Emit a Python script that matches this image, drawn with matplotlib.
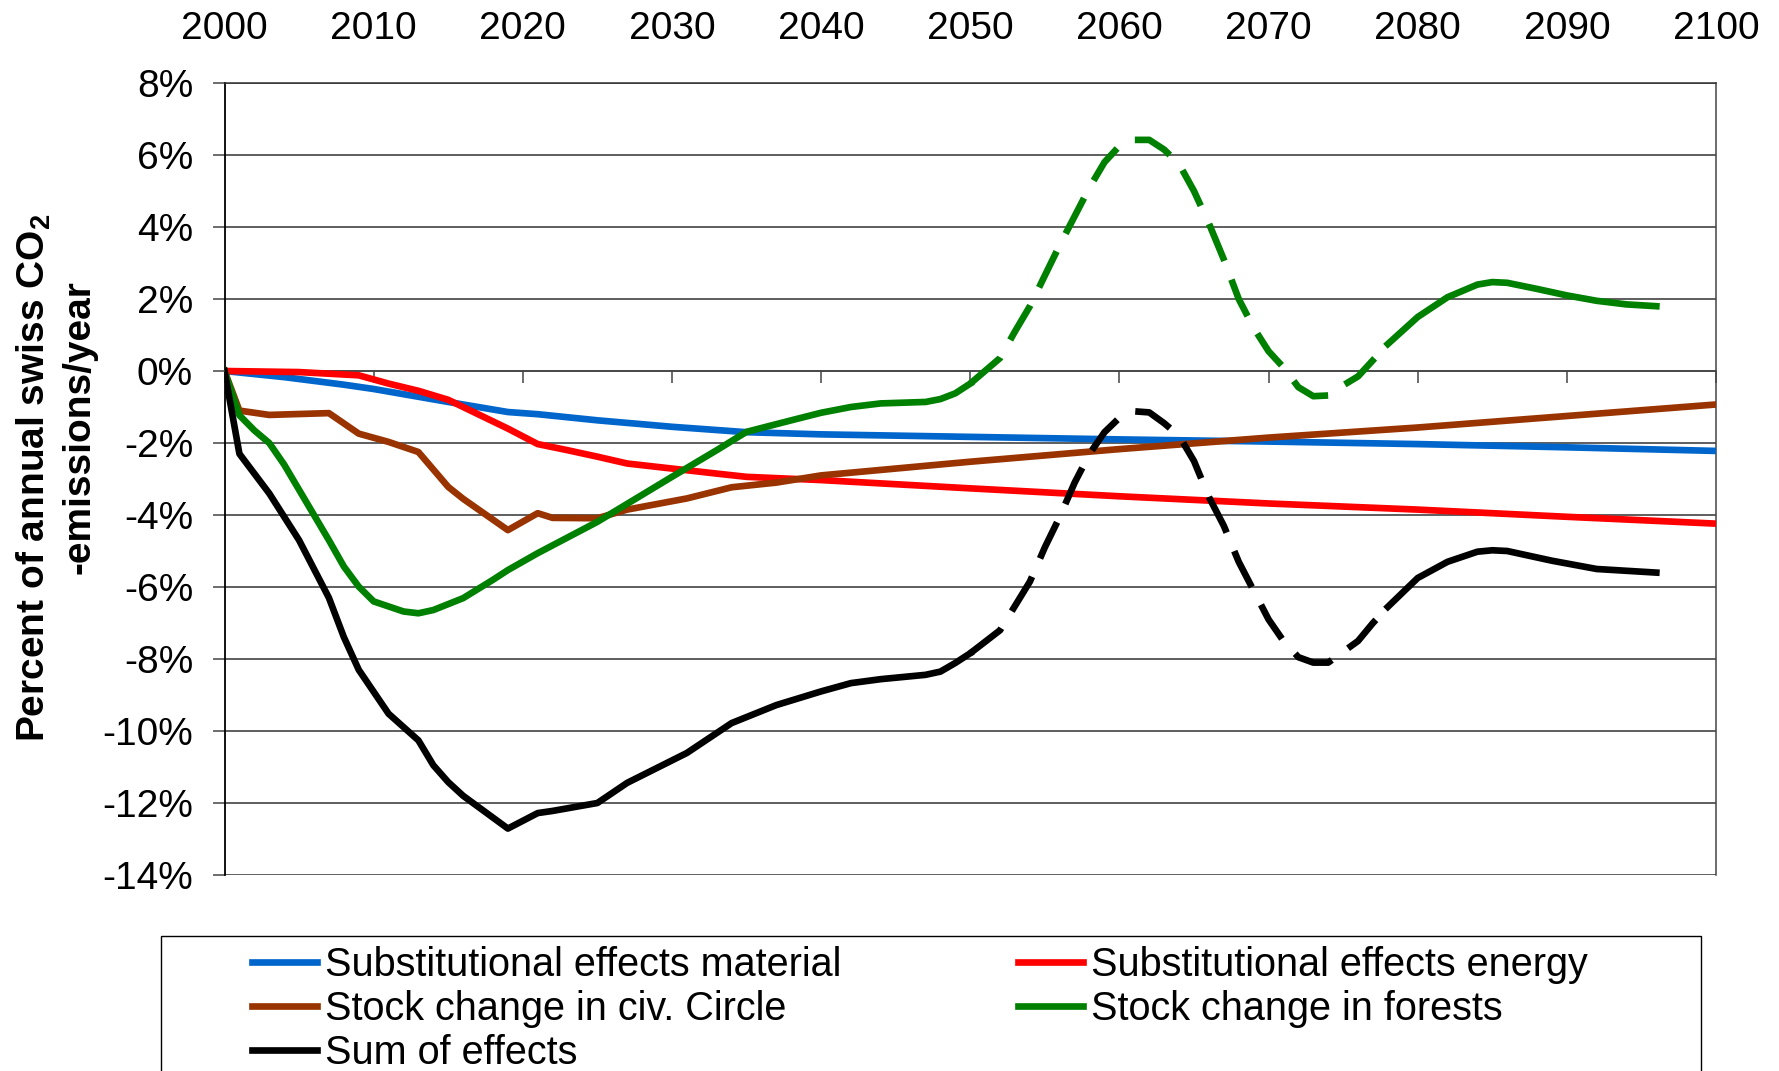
import numpy as np
import matplotlib
matplotlib.use('Agg')
import matplotlib.pyplot as plt
from matplotlib.lines import Line2D
from matplotlib.patches import Rectangle

plt.rcParams['font.family'] = ['Liberation Sans', 'DejaVu Sans']
plt.rcParams['mathtext.fontset'] = 'custom'
plt.rcParams['mathtext.rm'] = 'Liberation Sans:bold'
plt.rcParams['mathtext.bf'] = 'Liberation Sans:bold'
plt.rcParams['mathtext.default'] = 'bf'

# values in percent of annual swiss CO2 emissions
mat_years = [2000, 2004, 2008, 2010, 2015, 2019, 2021, 2025, 2030, 2035, 2040, 2050, 2060, 2070, 2080, 2090, 2100]
mat_vals = [0, -0.17, -0.38, -0.5, -0.86, -1.14, -1.2, -1.37, -1.55, -1.7, -1.76, -1.83, -1.9, -1.96, -2.03, -2.12, -2.22]

en_years = [2000, 2005, 2009, 2011, 2013, 2015, 2017, 2019, 2021, 2023, 2025, 2027, 2030, 2033, 2035, 2040, 2050, 2060, 2070, 2080, 2090, 2100]
en_vals = [0, -0.03, -0.12, -0.35, -0.55, -0.8, -1.2, -1.6, -2.03, -2.2, -2.38, -2.57, -2.71, -2.85, -2.94, -3.03, -3.26, -3.48, -3.68, -3.85, -4.05, -4.24]

civ_years = [2000, 2001, 2003, 2007, 2009, 2011, 2013, 2015, 2016, 2019, 2021, 2022, 2025, 2027, 2031, 2034, 2037, 2040, 2050, 2060, 2070, 2080, 2090, 2100]
civ_vals = [0, -1.1, -1.22, -1.17, -1.74, -1.97, -2.25, -3.22, -3.55, -4.42, -3.95, -4.08, -4.09, -3.85, -3.54, -3.23, -3.1, -2.9, -2.52, -2.17, -1.85, -1.57, -1.25, -0.93]

for_years = [2000, 2001, 2002, 2003, 2004, 2005, 2007, 2008, 2009, 2010, 2012, 2013, 2014, 2016, 2018, 2019,
             2021, 2025, 2030, 2033, 2035, 2038, 2040, 2042, 2044, 2047, 2048, 2049, 2050, 2052, 2053, 2054,
             2056, 2058, 2059, 2060, 2061, 2062, 2063, 2064, 2065, 2066, 2067, 2068, 2069, 2070, 2071, 2072,
             2073, 2074, 2075, 2076, 2077, 2078, 2080, 2082, 2084, 2085, 2086, 2088, 2090, 2092, 2094, 2096]
for_vals = [0, -1.23, -1.65, -2.0, -2.6, -3.3, -4.7, -5.43, -5.99, -6.4, -6.68, -6.73, -6.64, -6.31, -5.8, -5.53,
            -5.06, -4.19, -2.94, -2.2, -1.69, -1.37, -1.16, -1.0, -0.9, -0.86, -0.78, -0.62, -0.35, 0.36, 1.1, 1.8,
            3.5, 5.1, 5.8, 6.25, 6.42, 6.42, 6.15, 5.75, 5.0, 4.1, 3.1, 2.0, 1.2, 0.55, 0.1, -0.45,
            -0.7, -0.68, -0.4, -0.15, 0.3, 0.75, 1.5, 2.05, 2.4, 2.47, 2.45, 2.28, 2.1, 1.95, 1.85, 1.8]

sum_years = [2000, 2001, 2002, 2003, 2004, 2005, 2007, 2008, 2009, 2011, 2013, 2014, 2015, 2016, 2019, 2021,
             2022, 2025, 2027, 2031, 2034, 2037, 2040, 2042, 2044, 2047, 2048, 2049, 2050, 2052, 2054, 2055,
             2056, 2057, 2058, 2059, 2060, 2061, 2062, 2063, 2064, 2065, 2066, 2067, 2068, 2069, 2070, 2071,
             2072, 2073, 2074, 2075, 2076, 2077, 2078, 2080, 2082, 2084, 2085, 2086, 2089, 2092, 2096]
sum_vals = [0, -2.3, -2.85, -3.4, -4.05, -4.7, -6.3, -7.39, -8.3, -9.52, -10.26, -10.95, -11.42, -11.8, -12.71, -12.28,
            -12.22, -12.0, -11.44, -10.61, -9.78, -9.28, -8.9, -8.67, -8.56, -8.44, -8.35, -8.11, -7.84, -7.2, -5.85, -4.9,
            -4.05, -3.1, -2.3, -1.7, -1.3, -1.12, -1.15, -1.45, -1.8, -2.5, -3.5, -4.3, -5.3, -6.1, -6.9, -7.5,
            -7.95, -8.1, -8.1, -7.8, -7.5, -7.0, -6.55, -5.75, -5.3, -5.02, -4.98, -5.0, -5.27, -5.5, -5.6]

labels = ["Substitutional effects material", "Substitutional effects energy",
          "Stock change in civ. Circle", "Stock change in forests", "Sum of effects"]
colors = ["#0066CC", "#FF0000", "#993300", "#008000", "#000000"]

x_ticks = list(range(2000, 2101, 10))
y_ticks = list(range(-14, 9, 2))
y_ticklabels = ["%d%%" % v for v in y_ticks]

DASH_FROM, DASH_TO = 2050, 2078  # uncertain part drawn dashed

W, H = 1779, 1071
LW = 4.8

fig = plt.figure(figsize=(W / 100, H / 100), dpi=100)
ax = fig.add_axes([224.5 / W, 1 - 875 / H, (1716 - 224.5) / W, (875 - 83) / H])


def plot_split(years, vals, color):
    years = np.array(years)
    vals = np.array(vals)
    a = years <= DASH_FROM
    b = (years >= DASH_FROM) & (years <= DASH_TO)
    c = years >= DASH_TO
    ax.plot(years[a], vals[a], color=color, lw=LW, solid_joinstyle='round', zorder=3)
    ax.plot(years[b], vals[b], color=color, lw=LW, ls=(0, (6, 3)), dash_capstyle='butt', zorder=3)
    ax.plot(years[c], vals[c], color=color, lw=LW, solid_joinstyle='round', zorder=3)


ax.plot(mat_years, mat_vals, color=colors[0], lw=LW, zorder=3)
ax.plot(en_years, en_vals, color=colors[1], lw=LW, zorder=3)
ax.plot(civ_years, civ_vals, color=colors[2], lw=LW, zorder=3)
plot_split(for_years, for_vals, colors[3])
plot_split(sum_years, sum_vals, colors[4])

ax.set_xlim(2000, 2100)
ax.set_ylim(-14, 8)
ax.set_xticks(x_ticks)
ax.set_yticks(y_ticks)
ax.set_yticklabels(y_ticklabels)
ax.grid(axis='y', color='#333333', lw=1.1)
ax.set_axisbelow(True)

ax.spines['bottom'].set_position(('data', 0))
ax.spines['bottom'].set_color('#444444')
ax.spines['bottom'].set_linewidth(1.1)
ax.spines['top'].set_color('#333333')
ax.spines['top'].set_linewidth(1.1)
ax.spines['right'].set_color('#444444')
ax.spines['right'].set_linewidth(1.1)
ax.spines['left'].set_color('black')
ax.spines['left'].set_linewidth(1.3)

ax.tick_params(axis='x', which='both', bottom=True, top=False, labelbottom=False, labeltop=True,
               direction='out', length=8.6, width=1.1, color='#444444', pad=17, labelsize=28)
ax.tick_params(axis='y', direction='out', length=8.6, width=1.1, color='#444444', pad=14, labelsize=28)

ax.text(34 / W, 1 - 478 / H, r"Percent of annual swiss CO$_2$", transform=fig.transFigure,
        rotation=90, ha='center', va='center', fontsize=28, fontweight='bold')
ax.text(80 / W, 1 - 427 / H, "-emissions/year", transform=fig.transFigure,
        rotation=90, ha='center', va='center', fontsize=28, fontweight='bold')

# legend, column-major order for two columns
handles = [Line2D([], [], color=c, lw=LW) for c in colors]
order = [0, 2, 4, 1, 3]
fig.legend([handles[i] for i in order], [labels[i] for i in order], ncol=2, frameon=False,
           loc='upper left', bbox_to_anchor=(252 / W, 1 - 946 / H), borderaxespad=0, borderpad=0,
           fontsize=28.5, handlelength=1.65, handletextpad=0.2, columnspacing=4.45, labelspacing=0.15)
fig.patches.append(Rectangle((161 / W, -0.1), (1701 - 161) / W, 0.1 + 1 - 936.5 / H,
                             transform=fig.transFigure, fill=False, edgecolor='black', lw=1.0))

fig.savefig("out.png", dpi=100)
